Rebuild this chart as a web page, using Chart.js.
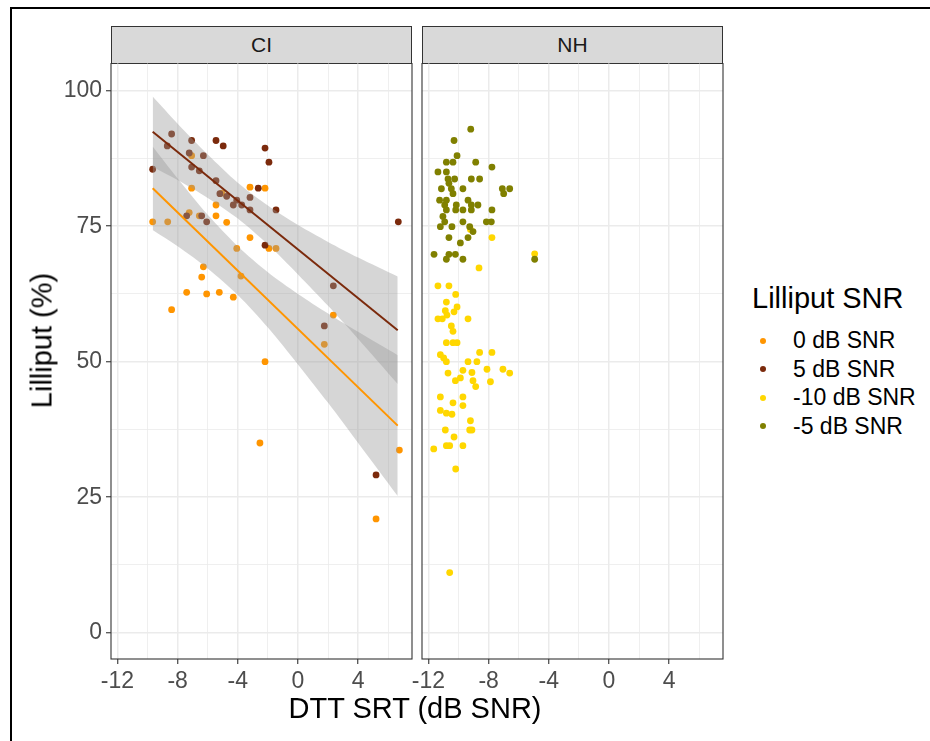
<!DOCTYPE html>
<html>
<head>
<meta charset="utf-8" />
<title>Lilliput vs DTT SRT</title>
<script src="https://cdn.jsdelivr.net/npm/chart.js"></script>
<style>
	body { margin: 0; background: #fff; font-family: "Liberation Sans", Arial, sans-serif; }
	#page { position: relative; width: 930px; height: 741px; overflow: hidden; background: #fff; }
	#frame { position: absolute; left: 10px; top: 7px; width: 1000px; height: 1000px; border: 2px solid #000; }
	.panel { position: absolute; top: 63px; height: 678px; }
	.strip { position: absolute; top: 26px; height: 38px; box-sizing: border-box; background: #d9d9d9;
		border: 1px solid #333; color: #1a1a1a; font-size: 21px; line-height: 36px; text-align: center; }
	#ytitle { position: absolute; left: -108px; top: 326px; width: 300px; height: 29px; line-height: 29px;
		font-size: 29px; text-align: center; transform: rotate(-90deg); color: #000; }
	#xtitle { position: absolute; left: 115px; top: 694px; width: 600px; line-height: 29px;
		font-size: 29px; text-align: center; color: #000; }
	#legend-title { position: absolute; left: 752px; top: 284px; font-size: 29px; line-height: 29px; white-space: nowrap; }
	.lg-item { position: absolute; left: 793px; font-size: 23px; line-height: 23px; white-space: nowrap; }
	.lg-dot { position: absolute; width: 6px; height: 6px; border-radius: 50%; }
</style>
</head>
<body>
<div id="page">
	<div id="frame"></div>
	<div class="strip" style="left:111px;width:301px;">CI</div>
	<div class="strip" style="left:422px;width:301px;">NH</div>
	<div class="panel" style="left:0;width:415px;"><canvas id="ciChart"></canvas></div>
	<div class="panel" style="left:402px;width:324px;"><canvas id="nhChart"></canvas></div>
	<div id="ytitle">Lilliput (%)</div>
	<div id="xtitle">DTT SRT (dB SNR)</div>
	<div id="legend-title">Lilliput SNR</div>
	<div id="legend"></div>
</div>
<script>
// axis ticks
const xTickVals = [-12, -8, -4, 0, 4];
const xMinorVals = [-10, -6, -2, 2, 6];
const yTickVals = [0, 25, 50, 75, 100];
const yMinorVals = [12.5, 37.5, 62.5, 87.5];

// legend / series
const seriesNames = ['0 dB SNR', '5 dB SNR', '-10 dB SNR', '-5 dB SNR'];
const seriesColors = ['#ff9500', '#7b2a0c', '#ffd700', '#808000'];

// CI panel, 0 dB SNR
const ci0X = [-7.07, -7.07, -3.19, -5.45, -7.23, -6.56, -5.45, -4.74, -9.66, -8.66, -3.19, -4.07, -2.19, -1.93, -1.46,
	-6.29, -6.40, -7.40, -6.07, -5.23, -4.30, -8.40, -3.79, 2.35, 1.75, -2.19, -2.53, 6.74, 5.19, -5.05];
const ci0Y = [88.0, 82.0, 82.2, 78.9, 77.5, 76.9, 76.9, 75.7, 75.8, 75.8, 72.9, 70.9, 82.0, 70.9, 70.9,
	67.5, 65.6, 62.8, 62.5, 62.8, 61.9, 59.6, 65.8, 58.6, 53.2, 50.0, 35.0, 33.7, 21.0, 81.1];

// CI panel, 5 dB SNR
const ci5X = [-8.40, -7.07, -8.69, -5.45, -4.97, -7.23, -6.29, -9.66, -7.07, -6.56, -5.45, -2.64, -5.19, -4.74, -4.07,
	-3.19, -4.30, -3.74, -3.19, -7.40, -6.40, -6.07, -2.19, -1.93, -1.46, 6.67, -2.19, 2.35, 1.75, 5.19];
const ci5Y = [92.0, 90.8, 89.8, 90.8, 89.8, 88.5, 88.0, 85.5, 85.9, 85.2, 83.4, 82.0, 81.0, 80.5, 79.8,
	80.3, 78.9, 78.9, 78.0, 76.9, 76.9, 75.8, 89.4, 86.8, 78.0, 75.8, 71.5, 64.0, 56.6, 29.1];

// NH panel, -10 dB SNR
const nhM10X = [-9.21, -7.78, -4.94, -8.64, -11.37, -10.64, -10.19, -10.81, -10.10, -10.30, -10.88, -10.77, -11.37, -11.08,
	-9.37, -10.48, -10.37, -10.81, -10.37, -10.10, -8.60, -7.78, -11.21, -10.99, -10.81, -9.37, -8.78, -8.11, -7.05,
	-6.60, -9.71, -10.70, -9.11, -9.88, -10.21, -9.04, -7.88, -8.86, -11.21, -9.71, -10.37, -9.71, -11.21, -10.81,
	-10.44, -9.21, -9.26, -9.11, -10.88, -10.30, -10.81, -10.59, -9.71, -11.65, -10.19, -10.59];
const nhM10Y = [74.4, 72.9, 69.9, 67.3, 64.0, 64.0, 62.4, 61.0, 60.1, 59.2, 59.4, 58.6, 57.9, 57.9,
	57.9, 56.6, 55.6, 53.5, 53.5, 53.5, 51.7, 51.7, 51.3, 50.7, 50.0, 50.0, 50.0, 48.6, 48.6,
	47.9, 48.4, 47.9, 48.0, 47.0, 46.5, 46.5, 46.3, 45.4, 43.5, 43.5, 42.4, 41.9, 41.0, 40.5,
	40.3, 39.1, 37.4, 37.4, 37.4, 36.1, 34.5, 34.5, 34.5, 33.9, 30.2, 11.1];

// NH panel, -5 dB SNR
const nhM5X = [-9.19, -10.30, -10.10, -10.81, -10.37, -8.86, -7.78, -11.37, -10.81, -10.70, -10.26, -9.15, -8.60,
	-10.64, -11.14, -10.48, -9.71, -10.37, -7.09, -6.60, -7.00, -11.26, -10.81, -9.37, -10.92, -10.15, -9.15, -8.71,
	-10.81, -10.19, -9.71, -9.15, -7.78, -11.04, -10.92, -9.71, -8.15, -7.82, -11.21, -10.44, -9.26, -9.04, -10.64,
	-9.37, -9.88, -11.63, -10.64, -10.21, -10.81, -9.71, -4.94];
const nhM5Y = [92.9, 90.8, 88.0, 86.8, 86.8, 86.8, 85.9, 85.0, 85.0, 83.7, 83.7, 83.7, 83.7,
	82.9, 81.9, 81.9, 81.9, 81.0, 81.9, 81.9, 81.0, 79.8, 79.8, 79.8, 78.9, 78.9, 78.9, 78.9,
	78.0, 78.0, 78.0, 78.0, 78.0, 76.8, 75.8, 75.8, 75.8, 75.8, 74.9, 74.9, 74.9, 74.0, 72.9,
	72.9, 71.9, 69.8, 69.8, 69.8, 68.9, 68.9, 68.9];

// fitted lines and confidence bands (CI panel)
const fitX = [-9.66, 6.63];
const fit0Y = [82.0, 38.2];
const fit5Y = [92.4, 55.8];
const bandX = [-9.66, -8, -6, -4, -2, 0, 2, 4, 6.63];
const band0Hi = [89.7, 83.8, 77.1, 71.3, 66.5, 62.5, 58.9, 55.5, 51.2];
const band0Lo = [74.3, 71.3, 67.2, 62.3, 56.3, 49.5, 42.4, 35.0, 25.2];
const band5Hi = [98.9, 93.9, 88.2, 83.0, 78.8, 75.2, 72.1, 69.2, 65.7];
const band5Lo = [85.9, 83.5, 80.2, 76.4, 71.6, 66.1, 60.3, 54.2, 45.9];

const FONT = '"Liberation Sans", Arial, sans-serif';
const zip = (xs, ys) => xs.map((x, i) => ({ x: x, y: ys[i] }));

function pointSet(xs, ys, color) {
	return { data: zip(xs, ys), backgroundColor: color, borderWidth: 0, pointRadius: 3.4, pointHoverRadius: 3.4, order: 3 };
}
function bandPair(lo, hi) {
	return [
		{ data: zip(bandX, hi), showLine: true, borderWidth: 0, pointRadius: 0, fill: '+1',
			backgroundColor: 'rgba(153,153,153,0.4)', borderColor: 'rgba(0,0,0,0)', tension: 0.3, order: 1 },
		{ data: zip(bandX, lo), showLine: true, borderWidth: 0, pointRadius: 0, fill: false,
			borderColor: 'rgba(0,0,0,0)', tension: 0.3, order: 1 }
	];
}
function fitLine(ys, color) {
	return { data: zip(fitX, ys), showLine: true, borderColor: color, borderWidth: 2, pointRadius: 0, fill: false, order: 0 };
}

const panelBox = {
	id: 'panelBox',
	afterDraw(chart) {
		const { ctx, chartArea: a } = chart;
		ctx.save();
		ctx.strokeStyle = '#333333';
		ctx.lineWidth = 1.1;
		ctx.strokeRect(a.left, a.top, a.right - a.left, a.bottom - a.top);
		ctx.restore();
	}
};

// keep the panel edges where they are, whatever the tick labels need
function noPad(s) {
	s.paddingTop = 0; s.paddingBottom = 0; s.paddingLeft = 0; s.paddingRight = 0;
}

function makePanel(id, datasets, showY, padLeft) {
	const xAll = xTickVals.concat(xMinorVals).sort((a, b) => a - b);
	const yAll = yTickVals.concat(yMinorVals).sort((a, b) => a - b);
	return new Chart(document.getElementById(id), {
		type: 'scatter',
		data: { datasets: datasets },
		options: {
			responsive: true,
			maintainAspectRatio: false,
			animation: false,
			layout: { padding: { left: padLeft, right: 3, top: 0, bottom: 0 }, autoPadding: false },
			plugins: { legend: { display: false }, tooltip: { enabled: false } },
			scales: {
				x: {
					type: 'linear', min: -12.43, max: 7.58,
					afterBuildTicks: s => { s.ticks = xAll.map(v => ({ value: v })); },
					afterFit: s => { s.height = 82; noPad(s); },
					ticks: {
						autoSkip: false, maxRotation: 0, padding: 4, color: '#4d4d4d',
						font: { size: 23, family: FONT },
						callback: v => xTickVals.includes(v) ? String(v) : ''
					},
					grid: {
						color: '#ebebeb',
						lineWidth: c => xTickVals.includes(c.tick.value) ? 1.5 : 0.8,
						tickLength: 5,
						tickWidth: 1.1,
						tickColor: c => xTickVals.includes(c.tick.value) ? '#333333' : 'rgba(0,0,0,0)'
					},
					border: { display: false }
				},
				y: {
					type: 'linear', min: -4.85, max: 105.1,
					afterBuildTicks: s => { s.ticks = yAll.map(v => ({ value: v })); },
					afterFit: s => { s.width = showY ? 111 : 0; noPad(s); },
					ticks: {
						display: showY, padding: 4, color: '#4d4d4d',
						font: { size: 23, family: FONT },
						callback: v => yTickVals.includes(v) ? String(v) : ''
					},
					grid: {
						color: '#ebebeb',
						lineWidth: c => yTickVals.includes(c.tick.value) ? 1.5 : 0.8,
						drawTicks: showY,
						tickLength: 5,
						tickWidth: 1.1,
						tickColor: c => yTickVals.includes(c.tick.value) ? '#333333' : 'rgba(0,0,0,0)'
					},
					border: { display: false }
				}
			}
		},
		plugins: [panelBox]
	});
}

makePanel('ciChart', [
	fitLine(fit5Y, seriesColors[1]),
	fitLine(fit0Y, seriesColors[0]),
	...bandPair(band5Lo, band5Hi),
	...bandPair(band0Lo, band0Hi),
	pointSet(ci5X, ci5Y, seriesColors[1]),
	pointSet(ci0X, ci0Y, seriesColors[0])
], true, 0);

makePanel('nhChart', [
	pointSet(nhM5X, nhM5Y, seriesColors[3]),
	pointSet(nhM10X, nhM10Y, seriesColors[2])
], false, 20);

// legend
const legend = document.getElementById('legend');
seriesNames.forEach((name, i) => {
	const cy = 340.7 + i * 28.5;
	const dot = document.createElement('span');
	dot.className = 'lg-dot';
	dot.style.left = '760px';
	dot.style.top = (cy - 3) + 'px';
	dot.style.background = seriesColors[i];
	legend.appendChild(dot);
	const label = document.createElement('div');
	label.className = 'lg-item';
	label.style.top = (cy - 11.3) + 'px';
	label.textContent = name;
	legend.appendChild(label);
});
</script>
</body>
</html>
